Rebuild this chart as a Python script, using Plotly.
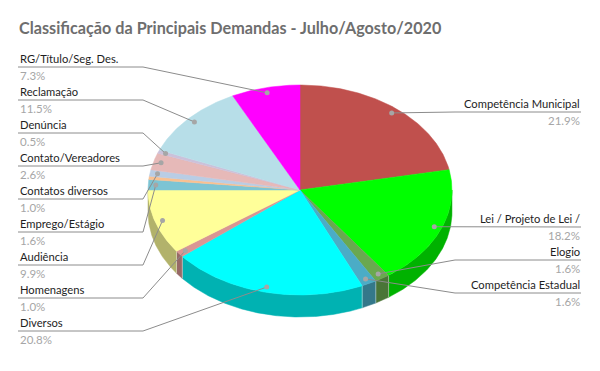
import math
import plotly.graph_objects as go

# ---------------- data ----------------
categories = ["Competência Municipal", "Lei / Projeto de Lei /", "Elogio", "Competência Estadual",
              "Diversos", "Homenagens", "Audiência", "Emprego/Estágio", "",
              "Contatos diversos", "Contato/Vereadores", "Denúncia", "Reclamação",
              "RG/Título/Seg. Des."]
values = [21.9, 18.2, 1.6, 1.6, 20.8, 1.0, 9.9, 1.6, 0.5, 1.0, 2.6, 0.5, 11.5, 7.3]
colors = ["#C0504D", "#00FF00", "#6AA84F", "#4BACC6", "#00FFFF", "#D99694", "#FFFF99",
          "#7CC4D4", "#FAC090", "#B9CDE5", "#E6B9B8", "#CCC1DA", "#B7DEE8", "#FF00FF"]
title_text = "Classificação da Principais Demandas - Julho/Agosto/2020"

# ---------------- layout constants ----------------
W, H = 600, 371
CX, CY, RX, RY, DEPTH = 300, 190, 152, 105, 22
DOT_K = 0.95
left_order = ["RG/Título/Seg. Des.", "Reclamação", "Denúncia", "Contato/Vereadores",
              "Contatos diversos", "Emprego/Estágio", "Audiência", "Homenagens", "Diversos"]
LEFT_X0, LEFT_X1, LEFT_Y0, LEFT_STEP = 18, 143, 67, 33
right_under = {"Competência Municipal": 112, "Lei / Projeto de Lei /": 227,
               "Elogio": 260, "Competência Estadual": 293}
RIGHT_X0, RIGHT_X1 = 455, 581
NAME_FONT = dict(family="Lato", size=11.2, color="#1E1E1E")
PCT_FONT = dict(family="Lato", size=11.5, color="#A6A6A6")
LINE_COLOR = "#8C8C8C"


def shade(hexc, f=0.7):
    r, g, b = int(hexc[1:3], 16), int(hexc[3:5], 16), int(hexc[5:7], 16)
    return "rgb(%d,%d,%d)" % (r * f, g * f, b * f)


def pt(theta_deg, k=1.0, dy=0.0):
    t = math.radians(theta_deg)
    return CX + RX * k * math.sin(t), CY - RY * k * math.cos(t) + dy


total = sum(values)
angles = []
acc = 0.0
for v in values:
    a0 = acc / total * 360
    acc += v
    a1 = acc / total * 360
    angles.append((a0, a1))

fig = go.Figure()

# side walls (visible front half: 90..270 deg clockwise from top)
for (a0, a1), c in zip(angles, colors):
    s0, s1 = max(a0, 90), min(a1, 270)
    if s1 <= s0:
        continue
    n = max(2, int((s1 - s0) * 2))
    ths = [s0 + (s1 - s0) * i / n for i in range(n + 1)]
    top = [pt(t) for t in ths]
    bot = [pt(t, dy=DEPTH) for t in reversed(ths)]
    poly = top + bot + [top[0]]
    fig.add_trace(go.Scatter(x=[p[0] for p in poly], y=[p[1] for p in poly], mode="lines",
                             fill="toself", fillcolor=shade(c), line=dict(color=shade(c), width=0.5),
                             hoverinfo="skip", showlegend=False))
    for edge in (s0, s1):
        if 90 < edge < 270:
            p, q = pt(edge), pt(edge, dy=DEPTH)
            fig.add_trace(go.Scatter(x=[p[0], q[0]], y=[p[1], q[1]], mode="lines",
                                     line=dict(color="rgba(255,255,255,0.35)", width=1),
                                     hoverinfo="skip", showlegend=False))

# top surface slices
for (a0, a1), c, name in zip(angles, colors, categories):
    n = max(2, int((a1 - a0) * 2))
    ths = [a0 + (a1 - a0) * i / n for i in range(n + 1)]
    poly = [(CX, CY)] + [pt(t) for t in ths] + [(CX, CY)]
    fig.add_trace(go.Scatter(x=[p[0] for p in poly], y=[p[1] for p in poly], mode="lines",
                             fill="toself", fillcolor=c, line=dict(color=c, width=0.5),
                             name=name, hoverinfo="skip", showlegend=False))

# labels, leader lines and dots
annotations = [dict(text="<b>" + title_text + "</b>", x=17, y=27, xref="x", yref="y",
                    xanchor="left", yanchor="middle", showarrow=False,
                    font=dict(family="Lato", size=16.2, color="#6E6E6E"))]
dots_x, dots_y = [], []
for i, (name, v) in enumerate(zip(categories, values)):
    if not name:
        continue
    a0, a1 = angles[i]
    dx, dy = pt((a0 + a1) / 2, k=DOT_K)
    dots_x.append(dx)
    dots_y.append(dy)
    pct = "%.1f%%" % (v / total * 100)
    if name in left_order:
        uy = LEFT_Y0 + LEFT_STEP * left_order.index(name)
        lx, ly = [LEFT_X0, LEFT_X1, dx], [uy, uy, dy]
        tx, anchor = LEFT_X0 + 1, "left"
    else:
        uy = right_under[name]
        lx, ly = [RIGHT_X1, RIGHT_X0, dx], [uy, uy, dy]
        tx, anchor = RIGHT_X1, "right"
    fig.add_trace(go.Scatter(x=lx, y=ly, mode="lines", line=dict(color=LINE_COLOR, width=1),
                             hoverinfo="skip", showlegend=False))
    annotations.append(dict(text=name, x=tx, y=uy - 1, xref="x", yref="y", xanchor=anchor,
                            yanchor="bottom", showarrow=False, font=NAME_FONT, borderpad=0))
    annotations.append(dict(text=pct, x=tx, y=uy + 1, xref="x", yref="y", xanchor=anchor,
                            yanchor="top", showarrow=False, font=PCT_FONT, borderpad=0))

fig.add_trace(go.Scatter(x=dots_x, y=dots_y, mode="markers",
                         marker=dict(color="#A6A6A6", size=5), hoverinfo="skip", showlegend=False))

fig.update_layout(width=W, height=H, margin=dict(l=0, r=0, t=0, b=0),
                  paper_bgcolor="white", plot_bgcolor="white",
                  xaxis=dict(range=[0, W], visible=False, fixedrange=True),
                  yaxis=dict(range=[H, 0], visible=False, fixedrange=True),
                  annotations=annotations)

fig.write_html("out.html", config={"displayModeBar": False},
               post_script="document.body.style.margin='0';")
